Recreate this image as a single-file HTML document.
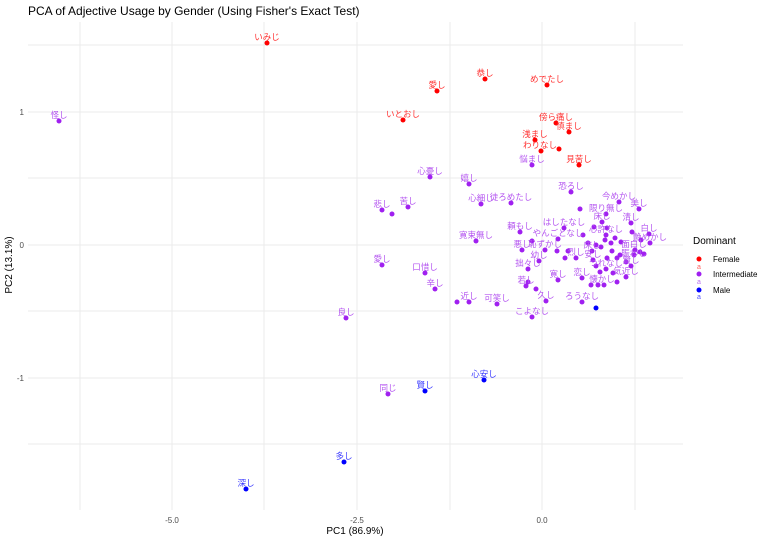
<!DOCTYPE html>
<html><head><meta charset="utf-8"><style>
body{margin:0;background:#fff}
svg{display:block;font-family:"Liberation Sans","Noto Sans CJK JP",sans-serif}
.r{fill:#ff0000}.p{fill:#a020f0}.b{fill:#0000ff}
.lr{fill:#ff3030;font-size:8.5px;text-anchor:middle}
.lp{fill:#b455f0;font-size:8.5px;text-anchor:middle}
.lb{fill:#3a3aff;font-size:8.5px;text-anchor:middle}
.t{fill:#4d4d4d;font-size:8px}
</style></head><body>
<svg width="769" height="541" viewBox="0 0 769 541">
<rect width="769" height="541" fill="#fff"/>
<g stroke="#ebebeb" stroke-width="1">
<line x1="80" y1="22" x2="80" y2="510"/><line x1="172" y1="22" x2="172" y2="510"/><line x1="264" y1="22" x2="264" y2="510"/><line x1="357" y1="22" x2="357" y2="510"/><line x1="450" y1="22" x2="450" y2="510"/><line x1="542" y1="22" x2="542" y2="510"/><line x1="635" y1="22" x2="635" y2="510"/>
<line x1="28" y1="45" x2="683" y2="45"/><line x1="28" y1="112" x2="683" y2="112"/><line x1="28" y1="178" x2="683" y2="178"/><line x1="28" y1="245" x2="683" y2="245"/><line x1="28" y1="311" x2="683" y2="311"/><line x1="28" y1="378" x2="683" y2="378"/><line x1="28" y1="444" x2="683" y2="444"/>
</g>
<text x="28" y="15" font-size="12" fill="#000">PCA of Adjective Usage by Gender (Using Fisher's Exact Test)</text>
<text class="t" x="172" y="523" text-anchor="middle">-5.0</text>
<text class="t" x="357" y="523" text-anchor="middle">-2.5</text>
<text class="t" x="542" y="523" text-anchor="middle">0.0</text>
<text class="t" x="24" y="115" text-anchor="end">1</text>
<text class="t" x="24" y="248" text-anchor="end">0</text>
<text class="t" x="24" y="381" text-anchor="end">-1</text>
<text x="355" y="534" font-size="10" text-anchor="middle" fill="#000">PC1 (86.9%)</text>
<text x="12" y="265" font-size="10" text-anchor="middle" fill="#000" transform="rotate(-90 12 265)">PC2 (13.1%)</text>
<g class="r">
<circle cx="267" cy="43" r="2.5"/><circle cx="437" cy="91" r="2.5"/><circle cx="485" cy="79" r="2.5"/><circle cx="547" cy="85" r="2.5"/><circle cx="403" cy="120" r="2.5"/><circle cx="556" cy="123" r="2.5"/><circle cx="569" cy="132" r="2.5"/><circle cx="535" cy="140" r="2.5"/><circle cx="541" cy="151" r="2.5"/><circle cx="559" cy="149" r="2.5"/><circle cx="579" cy="165" r="2.5"/>
</g>
<text class="lr" x="267" y="40">いみじ</text><text class="lr" x="437" y="88">愛し</text><text class="lr" x="485" y="76">恭し</text><text class="lr" x="547" y="82">めでたし</text><text class="lr" x="403" y="117">いとおし</text><text class="lr" x="556" y="120">傍ら痛し</text><text class="lr" x="569" y="129">慎まし</text><text class="lr" x="535" y="137">浅まし</text><text class="lr" x="540" y="148">わりなし</text><text class="lr" x="579" y="162">見苦し</text>
<g class="b">
<circle cx="484" cy="380" r="2.5"/><circle cx="425" cy="391" r="2.5"/><circle cx="344" cy="462" r="2.5"/><circle cx="246" cy="489" r="2.5"/><circle cx="596" cy="308" r="2.5"/>
</g>
<text class="lb" x="484" y="377">心安し</text><text class="lb" x="425" y="388">賢し</text><text class="lb" x="344" y="459">多し</text><text class="lb" x="246" y="486">深し</text>
<g class="p">
<circle cx="59" cy="121" r="2.5"/><circle cx="532" cy="165" r="2.5"/><circle cx="430" cy="177" r="2.5"/><circle cx="469" cy="184" r="2.5"/><circle cx="382" cy="210" r="2.5"/><circle cx="392" cy="214" r="2.5"/><circle cx="408" cy="207" r="2.5"/><circle cx="481" cy="204" r="2.5"/><circle cx="511" cy="203" r="2.5"/><circle cx="571" cy="192" r="2.5"/><circle cx="476" cy="241" r="2.5"/><circle cx="382" cy="265" r="2.5"/><circle cx="425" cy="273" r="2.5"/><circle cx="435" cy="289" r="2.5"/><circle cx="457" cy="302" r="2.5"/><circle cx="469" cy="302" r="2.5"/><circle cx="497" cy="304" r="2.5"/><circle cx="346" cy="318" r="2.5"/><circle cx="532" cy="317" r="2.5"/><circle cx="388" cy="394" r="2.5"/>
<circle cx="619" cy="202" r="2.5"/><circle cx="639" cy="209" r="2.5"/><circle cx="580" cy="209" r="2.5"/><circle cx="606" cy="214" r="2.5"/><circle cx="602" cy="222" r="2.5"/><circle cx="631" cy="223" r="2.5"/><circle cx="564" cy="228" r="2.5"/><circle cx="594" cy="227" r="2.5"/><circle cx="606" cy="235" r="2.5"/><circle cx="649" cy="234" r="2.5"/><circle cx="632" cy="232" r="2.5"/><circle cx="520" cy="232" r="2.5"/><circle cx="558" cy="239" r="2.5"/><circle cx="583" cy="235" r="2.5"/><circle cx="650" cy="243" r="2.5"/><circle cx="641" cy="240" r="2.5"/><circle cx="532" cy="241" r="2.5"/><circle cx="522" cy="250" r="2.5"/><circle cx="545" cy="250" r="2.5"/><circle cx="557" cy="251" r="2.5"/><circle cx="568" cy="251" r="2.5"/><circle cx="635" cy="250" r="2.5"/><circle cx="592" cy="251" r="2.5"/><circle cx="539" cy="261" r="2.5"/><circle cx="593" cy="260" r="2.5"/><circle cx="576" cy="258" r="2.5"/><circle cx="565" cy="258" r="2.5"/><circle cx="634" cy="255" r="2.5"/><circle cx="644" cy="254" r="2.5"/><circle cx="606" cy="269" r="2.5"/><circle cx="596" cy="266" r="2.5"/><circle cx="528" cy="269" r="2.5"/><circle cx="631" cy="266" r="2.5"/><circle cx="626" cy="277" r="2.5"/><circle cx="526" cy="286" r="2.5"/><circle cx="528" cy="282" r="2.5"/><circle cx="558" cy="280" r="2.5"/><circle cx="582" cy="278" r="2.5"/><circle cx="598" cy="285" r="2.5"/><circle cx="591" cy="285" r="2.5"/><circle cx="604" cy="285" r="2.5"/><circle cx="617" cy="282" r="2.5"/><circle cx="536" cy="289" r="2.5"/><circle cx="546" cy="301" r="2.5"/><circle cx="582" cy="302" r="2.5"/>
<circle cx="605" cy="240" r="2.5"/><circle cx="611" cy="243" r="2.5"/><circle cx="615" cy="238" r="2.5"/><circle cx="621" cy="242" r="2.5"/><circle cx="601" cy="247" r="2.5"/><circle cx="612" cy="251" r="2.5"/><circle cx="620" cy="255" r="2.5"/><circle cx="607" cy="258" r="2.5"/><circle cx="596" cy="245" r="2.5"/><circle cx="588" cy="243" r="2.5"/><circle cx="600" cy="272" r="2.5"/><circle cx="613" cy="273" r="2.5"/><circle cx="626" cy="262" r="2.5"/><circle cx="640" cy="252" r="2.5"/><circle cx="607" cy="228" r="2.5"/><circle cx="617" cy="258" r="2.5"/>
</g>
<text class="lp" x="59" y="118">怪し</text><text class="lp" x="532" y="162">悩まし</text><text class="lp" x="430" y="174">心憂し</text><text class="lp" x="469" y="181">嬉し</text><text class="lp" x="382" y="207">悲し</text><text class="lp" x="408" y="204">苦し</text><text class="lp" x="481" y="201">心細し</text><text class="lp" x="511" y="200">徒ろめたし</text><text class="lp" x="571" y="189">恐ろし</text><text class="lp" x="476" y="238">寛束無し</text><text class="lp" x="382" y="262">愛し</text><text class="lp" x="425" y="270">口惜し</text><text class="lp" x="435" y="286">辛し</text><text class="lp" x="469" y="299">近し</text><text class="lp" x="497" y="301">可笑し</text><text class="lp" x="346" y="315">良し</text><text class="lp" x="532" y="314">こよなし</text><text class="lp" x="388" y="391">同じ</text>
<text class="lp" x="619" y="199">今めかし</text><text class="lp" x="639" y="206">美し</text><text class="lp" x="606" y="211">限り無し</text><text class="lp" x="602" y="219">床し</text><text class="lp" x="631" y="220">清し</text><text class="lp" x="564" y="225">はしたなし</text><text class="lp" x="606" y="232">心許なし</text><text class="lp" x="649" y="231">白し</text><text class="lp" x="520" y="229">頼もし</text><text class="lp" x="558" y="236">やんごとなし</text><text class="lp" x="650" y="240">艶めかし</text><text class="lp" x="522" y="247">悪し</text><text class="lp" x="545" y="247">恥ずかし</text><text class="lp" x="634" y="247">面白し</text><text class="lp" x="592" y="248">床し</text><text class="lp" x="539" y="258">幼し</text><text class="lp" x="593" y="257">安し</text><text class="lp" x="576" y="255">烈し</text><text class="lp" x="634" y="256">賑わし</text><text class="lp" x="606" y="266">つれなし</text><text class="lp" x="528" y="266">拙々し</text><text class="lp" x="631" y="263">賢し</text><text class="lp" x="626" y="274">気近し</text><text class="lp" x="526" y="283">若し</text><text class="lp" x="558" y="277">寛し</text><text class="lp" x="582" y="275">恋し</text><text class="lp" x="602" y="282">懐かし</text><text class="lp" x="546" y="298">久し</text><text class="lp" x="582" y="299">ろうなし</text>
<text x="693" y="244" font-size="10" fill="#000">Dominant</text>
<circle cx="699" cy="259" r="2.5" fill="#ff0000"/><text x="699" y="269" font-size="7" fill="#ff6060" text-anchor="middle">a</text>
<circle cx="699" cy="274" r="2.5" fill="#a020f0"/><text x="699" y="284" font-size="7" fill="#b870f0" text-anchor="middle">a</text>
<circle cx="699" cy="290" r="2.5" fill="#0000ff"/><text x="699" y="299" font-size="7" fill="#5050ff" text-anchor="middle">a</text>
<text x="713" y="262" font-size="8" fill="#000">Female</text>
<text x="713" y="277" font-size="8" fill="#000">Intermediate</text>
<text x="713" y="293" font-size="8" fill="#000">Male</text>
</svg>
</body></html>
